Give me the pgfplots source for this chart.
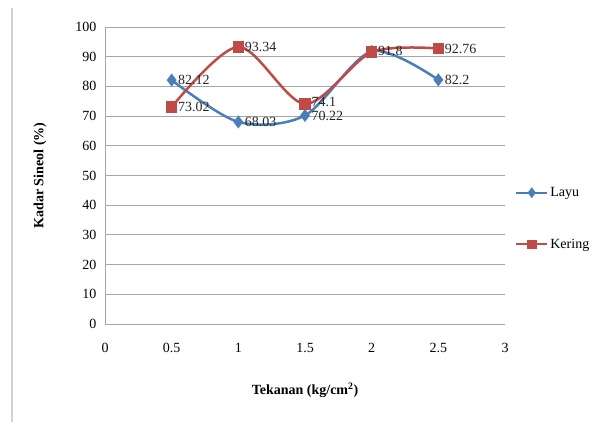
\documentclass[border=0pt]{standalone}
\usepackage{fontspec}
\setmainfont{Liberation Serif}
\usepackage{pgfplots}
\pgfplotsset{compat=1.18}
\definecolor{layu}{HTML}{4A7EBB}
\definecolor{kering}{HTML}{BE4B48}
\definecolor{gridc}{HTML}{A6A6A6}
\begin{document}
\begin{tikzpicture}[font=\fontsize{14bp}{17bp}\selectfont]
\path[use as bounding box] (0,0) rectangle (602bp,425bp);
\draw[gray!35, line width=1.5bp] (12bp,3bp) -- (12bp,417bp);
\begin{axis}[
  at={(105bp,101bp)}, anchor=south west,
  scale only axis, width=400bp, height=297bp,
  xmin=0, xmax=3, ymin=0, ymax=100,
  xtick={0,0.5,1,1.5,2,2.5,3},
  xticklabels={0,0.5,1,1.5,2,2.5,3},
  ytick={0,10,...,100},
  axis x line=bottom, axis y line=left,
  axis line style={-, draw=gridc, line width=0.8bp},
  ymajorgrids, grid style={draw=gridc, line width=0.8bp},
  tick style={draw=none},
  /pgf/number format/assume math mode=true,
  xticklabel style={yshift=-14bp},
  yticklabel style={xshift=-3bp},
  xlabel={\textbf{Tekanan (kg/cm\textsuperscript{2})}},
  ylabel={\textbf{Kadar Sineol (\%)}},
  xlabel style={at={([yshift=-66bp]axis description cs:0.5,0)}, anchor=center},
  ylabel style={at={([xshift=-65bp]axis description cs:0,0.5)}, anchor=center},
  legend cell align=left,
  legend style={draw=none, fill=none, at={(1.025,0.355)}, anchor=west,
    inner xsep=0pt, row sep=37bp, font=\fontsize{14bp}{17bp}\selectfont},
  legend image code/.code={\draw[mark repeat=2,mark phase=2,#1,line width=2bp,mark size=3.8bp] plot coordinates {(0cm,0cm) (0.55cm,0cm) (1.1cm,0cm)};},
  point meta=explicit symbolic,
  nodes near coords,
  every node near coord/.style={anchor=west, xshift=2bp, text=black!85, font=\fontsize{14bp}{17bp}\selectfont},
]
\addplot[color=layu, line width=2.5bp, smooth, mark=diamond*, mark size=4.5bp, mark options={fill=layu}]
coordinates {(0.5,82.12) [82.12] (1,68.03) [68.03] (1.5,70.22) [\raisebox{-3bp}{70.22}] (2,91.8) [91.8] (2.5,82.2) [82.2]};
\addlegendentry{Layu}
\addplot[color=kering, line width=2.5bp, smooth, mark=square*, mark size=4.5bp, mark options={fill=kering}]
coordinates {(0.5,73.02) [73.02] (1,93.34) [93.34] (1.5,74.1) [\raisebox{4bp}{74.1}] (2,91.5) [{}] (2.5,92.76) [92.76]};
\addlegendentry{Kering}
\end{axis}
\end{tikzpicture}
\end{document}
